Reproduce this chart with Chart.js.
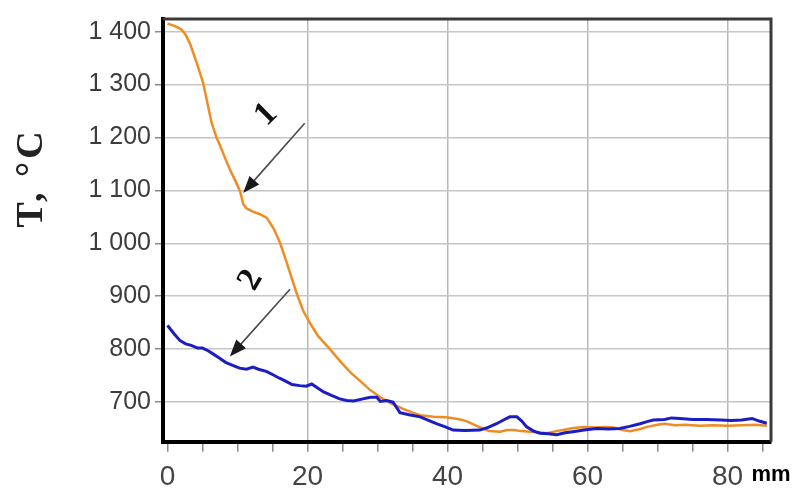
<!DOCTYPE html>
<html>
<head>
<meta charset="utf-8">
<script src="https://cdn.jsdelivr.net/npm/chart.js@4"></script>
<style>
html, body { margin: 0; padding: 0; background: #fff; }
</style>
</head>
<body>
<canvas id="grafico" width="792" height="494"></canvas>
<script>
'use strict';

////////////////////////////////////////////////////
// Datos (mm, °C)
const curva1X = [0, 0.6, 1.3, 2.0, 2.6, 3.2, 4.2, 5.1, 5.7, 6.3, 7.0, 7.5, 8.2, 8.9, 9.7, 10.4, 10.8, 11.3, 12.2, 13.2,
    14.2, 15.2, 16.1, 17.0, 17.8, 18.6, 19.4, 20.4, 21.5, 23.2, 24.8, 26.2, 27.5, 29.0, 30.4, 32.0, 33.5, 35.0, 36.1, 38.0,
    39.8, 41.5, 42.7, 44.0, 45.0, 46.0, 47.5, 48.5, 49.5, 50.5, 51.8, 53.0, 54.2, 55.5, 56.5, 58.0, 59.5, 61.0, 62.5, 63.7,
    65.0, 66.1, 67.5, 68.5, 70.0, 71.0, 72.5, 74.0, 76.0, 78.0, 80.0, 82.0, 84.0, 85.6];
const curva1T = [1415, 1413, 1409, 1404, 1394, 1378, 1340, 1303, 1265, 1228, 1200, 1185, 1162, 1140, 1118, 1097, 1075, 1066, 1060, 1055,
    1048, 1027, 1000, 965, 932, 900, 872, 848, 825, 800, 775, 755, 740, 722, 709, 697, 688, 680, 675, 672,
    671, 668, 664, 656, 650, 645, 644, 647, 647, 645, 644, 643, 641, 645, 647, 651, 653, 652, 653, 652,
    647, 645, 649, 653, 657, 659, 656, 657, 655, 656, 655, 656, 657, 655];

const curva2X = [0, 0.4, 1.0, 1.8, 2.6, 3.4, 4.3, 5.0, 5.8, 6.5, 7.4, 8.3, 9.4, 10.3, 11.3, 12.2, 13.0, 14.1, 15.0, 16.0,
    16.8, 17.8, 18.9, 19.8, 20.6, 21.5, 22.3, 23.5, 24.6, 25.6, 26.6, 27.9, 29.0, 29.9, 30.4, 31.3, 32.2, 33.2, 34.5, 36.1,
    37.2, 38.4, 39.5, 40.8, 42.5, 44.6, 45.8, 47.0, 48.0, 48.9, 49.9, 50.6, 51.3, 52.3, 53.2, 54.4, 55.6, 56.8, 57.9, 59.5,
    61.3, 63.0, 64.6, 66.0, 67.5, 68.5, 69.4, 71.0, 72.0, 73.2, 75.0, 77.0, 79.0, 80.5, 82.0, 83.5, 84.5, 85.6];
const curva2T = [845, 838, 828, 816, 810, 807, 802, 802, 797, 791, 783, 775, 769, 764, 762, 766, 762, 758, 752, 745,
    740, 733, 731, 730, 734, 726, 719, 712, 706, 703, 702, 706, 709, 709, 701, 703, 700, 680, 676, 672,
    666, 659, 654, 647, 646, 647, 652, 659, 666, 672, 672, 664, 653, 645, 641, 640, 638, 642, 644, 647,
    650, 649, 650, 654, 659, 663, 666, 667, 670, 669, 667, 667, 666, 665, 666, 669, 664, 660];

const xTicks = [0, 5, 10, 15, 20, 25, 30, 35, 40, 45, 50, 55, 60, 65, 70, 75, 80, 85];
const xLabelTicks = [0, 20, 40, 60, 80];
const yTicks = [700, 800, 900, 1000, 1100, 1200, 1300, 1400];
const yTickLabels = ['700', '800', '900', '1 000', '1 100', '1 200', '1 300', '1 400'];

// flechas: [x inicio, T inicio, x punta, T punta] y etiquetas [texto, x, T]
const flecha1 = [19.6, 1227, 10.8, 1095];
const flecha2 = [17.5, 913, 8.9, 786];
const etiquetas = [['1', 14.1, 1243], ['2', 11.9, 930]];
////////////////////////////////////////////////////

function puntos(xs, ts) {
    return xs.map((x, i) => ({ x: x, y: ts[i] }));
}

function dibujarFlecha(c, x1, y1, x2, y2) {
    const ang = Math.atan2(y2 - y1, x2 - x1);
    const largo = 17, ancho = 6.5;
    c.strokeStyle = '#4a4a4a';
    c.fillStyle = '#1a1a1a';
    c.lineWidth = 1.6;
    c.beginPath();
    c.moveTo(x1, y1);
    c.lineTo(x2 - Math.cos(ang) * largo * 0.8, y2 - Math.sin(ang) * largo * 0.8);
    c.stroke();
    c.beginPath();
    c.moveTo(x2, y2);
    c.lineTo(x2 - Math.cos(ang) * largo + Math.sin(ang) * ancho, y2 - Math.sin(ang) * largo - Math.cos(ang) * ancho);
    c.lineTo(x2 - Math.cos(ang) * largo - Math.sin(ang) * ancho, y2 - Math.sin(ang) * largo + Math.cos(ang) * ancho);
    c.closePath();
    c.fill();
}

const extras = {
    id: 'extras',
    afterDraw(chart) {
        const c = chart.ctx;
        const a = chart.chartArea;
        const sx = chart.scales.x, sy = chart.scales.y;
        c.save();
        // marco superior y derecho
        c.strokeStyle = '#3a3a3a';
        c.lineWidth = 3;
        c.beginPath();
        c.moveTo(a.left, a.top);
        c.lineTo(a.right, a.top);
        c.lineTo(a.right, a.bottom);
        c.stroke();

        // flechas
        [flecha1, flecha2].forEach(f => {
            dibujarFlecha(c, sx.getPixelForValue(f[0]), sy.getPixelForValue(f[1]),
                sx.getPixelForValue(f[2]), sy.getPixelForValue(f[3]));
        });

        // numeros de curva
        c.fillStyle = '#111';
        c.font = 'bold 34px "Liberation Serif", serif';
        c.textAlign = 'center';
        c.textBaseline = 'middle';
        etiquetas.forEach(e => {
            c.save();
            c.translate(sx.getPixelForValue(e[1]), sy.getPixelForValue(e[2]));
            c.rotate(e[0] === '1' ? -Math.PI / 4 : -Math.PI / 3);
            c.fillText(e[0], 0, 0);
            c.restore();
        });

        // titulo eje Y
        c.save();
        c.translate(32, 178);
        c.rotate(-Math.PI / 2);
        c.font = 'bold 38px "Liberation Serif", serif';
        c.letterSpacing = '3px';
        c.fillStyle = '#222';
        c.fillText('T, °C', 0, 0);
        c.restore();

        // unidad eje X
        c.font = 'bold 22px "Liberation Sans", Arial, sans-serif';
        c.fillStyle = '#000';
        c.textAlign = 'center';
        c.fillText('mm', 771, 475);
        c.restore();
    }
};

const ctx = document.getElementById('grafico').getContext('2d');
new Chart(ctx, {
    type: 'line',
    data: {
        datasets: [{
            label: '2',
            data: puntos(curva2X, curva2T),
            borderColor: '#1c1cc4',
            borderWidth: 3,
            pointRadius: 0,
            tension: 0
        }, {
            label: '1',
            data: puntos(curva1X, curva1T),
            borderColor: '#f08c24',
            borderWidth: 2.5,
            pointRadius: 0,
            tension: 0
        }]
    },
    options: {
        responsive: false,
        animation: false,
        devicePixelRatio: 1,
        layout: { padding: { top: 15.5, right: 21, left: 0, bottom: 0 } },
        plugins: { legend: { display: false }, tooltip: { enabled: false } },
        scales: {
            x: {
                type: 'linear',
                min: -0.64,
                max: 86.2,
                afterBuildTicks: s => { s.ticks = xTicks.map(v => ({ value: v })); },
                afterFit: s => { s.height = 52.3; },
                ticks: {
                    autoSkip: false,
                    maxRotation: 0,
                    padding: 9,
                    color: '#444',
                    font: { family: "'Liberation Sans', Arial, sans-serif", size: 28 },
                    callback: v => xLabelTicks.includes(v) ? String(v) : ''
                },
                grid: {
                    color: c => (c.tick && c.tick.value % 20 === 0 && c.tick.value !== 0) ? '#b8b8b8' : 'rgba(0,0,0,0)',
                    lineWidth: 1.5,
                    tickColor: '#8a8a8a',
                    tickLength: 10
                },
                border: { display: true, color: '#000', width: 4 }
            },
            y: {
                min: 625,
                max: 1424,
                afterBuildTicks: s => { s.ticks = yTicks.map(v => ({ value: v })); },
                afterFit: s => { s.width = 163; },
                ticks: {
                    padding: 4,
                    color: '#3c3c3c',
                    font: { family: "'Liberation Sans', Arial, sans-serif", size: 25 },
                    callback: (v, i) => yTickLabels[i]
                },
                grid: {
                    color: '#c6c6c6',
                    lineWidth: 1.5,
                    tickColor: '#8a8a8a',
                    tickLength: 8
                },
                border: { display: true, color: '#000', width: 4 }
            }
        }
    },
    plugins: [extras]
});
</script>
</body>
</html>
